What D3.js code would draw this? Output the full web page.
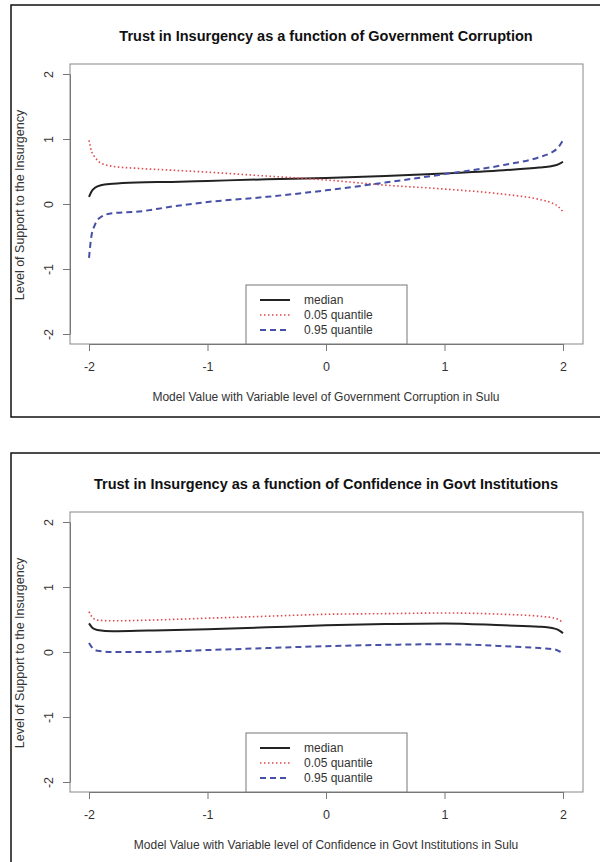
<!DOCTYPE html>
<html>
<head>
<meta charset="utf-8">
<script src="https://cdn.jsdelivr.net/npm/d3@7"></script>
<style>
  body { margin: 0; background: #fff; }
  text { font-family: "Liberation Sans", Arial, sans-serif; }
</style>
</head>
<body>
<script>
    //tick labels shared by both panels
    var tickValues = [-2, -1, 0, 1, 2];
    var legendLabels = ["median", "0.05 quantile", "0.95 quantile"];

    //panel 1 : government corruption
    var corrX      = [-2, -1.98, -1.95, -1.9, -1.8, -1.6, -1.3, -1, -0.5, 0, 0.5, 1, 1.5, 1.8, 1.9, 1.96, 2];
    var corrMedian = [0.11, 0.19, 0.25, 0.29, 0.31, 0.33, 0.34, 0.355, 0.38, 0.40, 0.43, 0.47, 0.52, 0.56, 0.58, 0.61, 0.65];
    var corrQ05    = [0.98, 0.82, 0.72, 0.63, 0.58, 0.55, 0.52, 0.49, 0.43, 0.37, 0.29, 0.23, 0.15, 0.07, 0.02, -0.04, -0.12];
    var corrQ95    = [-0.83, -0.5, -0.32, -0.2, -0.14, -0.12, -0.04, 0.03, 0.11, 0.21, 0.33, 0.46, 0.6, 0.72, 0.79, 0.87, 0.98];

    //panel 2 : confidence in govt institutions
    var confX      = [-2, -1.97, -1.93, -1.8, -1.5, -1, -0.5, 0, 0.5, 1, 1.5, 1.8, 1.93, 1.97, 2];
    var confMedian = [0.44, 0.37, 0.34, 0.32, 0.33, 0.35, 0.38, 0.41, 0.43, 0.44, 0.41, 0.39, 0.36, 0.33, 0.29];
    var confQ05    = [0.62, 0.53, 0.49, 0.48, 0.49, 0.52, 0.55, 0.58, 0.59, 0.60, 0.58, 0.55, 0.52, 0.49, 0.45];
    var confQ95    = [0.14, 0.06, 0.02, 0.0, 0.0, 0.03, 0.06, 0.09, 0.11, 0.12, 0.09, 0.06, 0.04, 0.01, -0.03];

    var width = 600,
        height = 862;

    var svg = d3.select("body")
        .append("svg")
        .attr("width", width)
        .attr("height", height);

    //line styles : median solid, 0.05 dotted red, 0.95 dashed blue
    var styles = [
        {color: "#222", dash: null, w: 2},
        {color: "#e0474a", dash: "1.5,2.5", w: 1.6},
        {color: "#4650a6", dash: "6,4", w: 2}
    ];

    //R style labels use a plain hyphen for negatives
    var fmt = function(d){ return String(d); };

    drawPanel(0, "Trust in Insurgency as a function of Government Corruption",
        "Model Value with Variable level of Government Corruption in Sulu",
        corrX, [corrMedian, corrQ05, corrQ95]);

    drawPanel(448, "Trust in Insurgency as a function of Confidence in Govt Institutions",
        "Model Value with Variable level of Confidence in Govt Institutions in Sulu",
        confX, [confMedian, confQ05, confQ95]);

    function drawPanel(top, title, xlabel, xs, series){

        var g = svg.append("g").attr("transform", "translate(0," + top + ")");

        //outer frame
        g.append("rect")
            .attr("x", 11).attr("y", 5)
            .attr("width", 600).attr("height", 412)
            .attr("fill", "none")
            .attr("stroke", "#111")
            .attr("stroke-width", 1.5);

        var x = d3.scaleLinear().domain([-2, 2]).range([89, 563]);
        var y = d3.scaleLinear().domain([-2, 2]).range([334, 74]);

        //plot box
        g.append("rect")
            .attr("x", 70).attr("y", 64)
            .attr("width", 513).attr("height", 280)
            .attr("fill", "none")
            .attr("stroke", "#888")
            .attr("stroke-width", 1);

        //x axis
        var xAxis = g.append("g")
            .attr("transform", "translate(0,344)")
            .call(d3.axisBottom(x).tickValues(tickValues).tickSize(7).tickSizeOuter(0).tickPadding(11)
                .tickFormat(fmt));
        xAxis.selectAll("path, line").attr("stroke", "#777");
        xAxis.selectAll("text").attr("font-size", 12.5).attr("fill", "#333")
            .attr("font-family", "Liberation Sans, Arial, sans-serif");

        //y axis, labels rotated like R's default
        var yAxis = g.append("g")
            .attr("transform", "translate(70,0)")
            .call(d3.axisLeft(y).tickValues(tickValues).tickSize(7).tickSizeOuter(0)
                .tickFormat(fmt));
        yAxis.selectAll("path, line").attr("stroke", "#777");
        yAxis.selectAll("text")
            .attr("font-size", 12.5).attr("fill", "#333")
            .attr("font-family", "Liberation Sans, Arial, sans-serif")
            .attr("x", null).attr("dy", null)
            .attr("text-anchor", "middle")
            .attr("transform", "translate(-17,0) rotate(-90)");

        //title and axis labels
        g.append("text")
            .attr("x", 326).attr("y", 41)
            .attr("text-anchor", "middle")
            .attr("font-size", 14.5).attr("font-weight", "bold").attr("fill", "#111")
            .text(title);

        g.append("text")
            .attr("x", 326).attr("y", 401)
            .attr("text-anchor", "middle")
            .attr("font-size", 12).attr("fill", "#333")
            .text(xlabel);

        g.append("text")
            .attr("transform", "translate(24,205) rotate(-90)")
            .attr("text-anchor", "middle")
            .attr("font-size", 12.5).attr("fill", "#333")
            .text("Level of Support to the Insurgency");

        //curves
        var line = d3.line()
            .x(function(d){ return x(d[0]); })
            .y(function(d){ return y(d[1]); })
            .curve(d3.curveMonotoneX);

        series.forEach(function(vals, i){
            var pts = xs.map(function(v, j){ return [v, vals[j]]; });
            g.append("path")
                .datum(pts)
                .attr("d", line)
                .attr("fill", "none")
                .attr("stroke", styles[i].color)
                .attr("stroke-width", styles[i].w)
                .attr("stroke-dasharray", styles[i].dash);
        });

        //legend
        var leg = g.append("g");
        leg.append("rect")
            .attr("x", 246).attr("y", 285)
            .attr("width", 161).attr("height", 59)
            .attr("fill", "#fff")
            .attr("stroke", "#777");

        legendLabels.forEach(function(lab, i){
            var ly = 300 + i * 15;
            leg.append("line")
                .attr("x1", 260).attr("x2", 290)
                .attr("y1", ly).attr("y2", ly)
                .attr("stroke", styles[i].color)
                .attr("stroke-width", styles[i].w)
                .attr("stroke-dasharray", styles[i].dash);
            leg.append("text")
                .attr("x", 304).attr("y", ly + 4)
                .attr("font-size", 12).attr("fill", "#333")
                .text(lab);
        });
    }
</script>
</body>
</html>
